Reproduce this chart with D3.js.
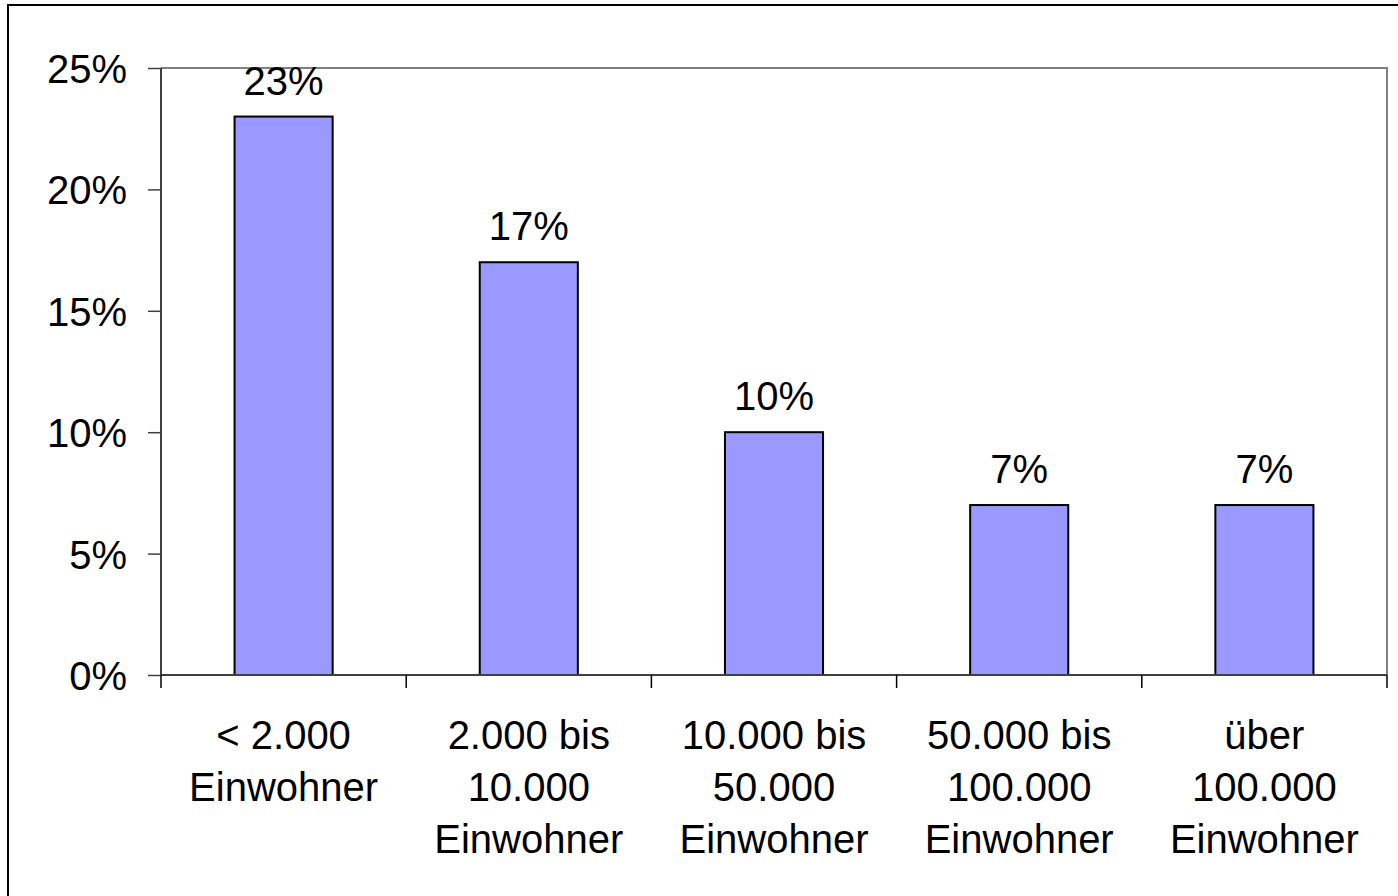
<!DOCTYPE html>
<html lang="de">
<head>
<meta charset="UTF-8">
<title>Einwohner</title>
<style>
  body { margin: 0; background: #fff; }
  text { font-family: "Liberation Sans", Arial, sans-serif; fill: #000; }
</style>
</head>
<body>
<svg width="1398" height="896"></svg>
<script src="https://cdn.jsdelivr.net/npm/d3@7"></script>
<script>
(function() {
    'use strict';

    var categories = [
        ["< 2.000", "Einwohner"],
        ["2.000 bis", "10.000", "Einwohner"],
        ["10.000 bis", "50.000", "Einwohner"],
        ["50.000 bis", "100.000", "Einwohner"],
        ["über", "100.000", "Einwohner"]
    ];
    var values = [23, 17, 10, 7, 7];
    var yTicks = [0, 5, 10, 15, 20, 25];

    var LEFT = 161, RIGHT = 1387, TOP = 68, BOTTOM = 675;
    var FONT = 40;

    var svg = d3.select("svg");

    // outer frame
    svg.append("rect")
        .attr("x", 8).attr("y", 5)
        .attr("width", 1400).attr("height", 900)
        .attr("fill", "none").attr("stroke", "#000").attr("stroke-width", 2);

    var x = d3.scaleBand()
        .domain(d3.range(categories.length))
        .range([LEFT, RIGHT])
        .paddingInner(0.6).paddingOuter(0.3);

    var band = d3.scaleBand()
        .domain(d3.range(categories.length))
        .range([LEFT, RIGHT]);

    var y = d3.scaleLinear().domain([0, 25]).range([BOTTOM, TOP]);

    // plot area border (top / right)
    svg.append("path")
        .attr("d", "M" + LEFT + "," + TOP + "H" + RIGHT + "V" + BOTTOM)
        .attr("fill", "none").attr("stroke", "#808080").attr("stroke-width", 2);

    // bars
    svg.selectAll(".bar")
        .data(values)
        .enter().append("rect")
        .attr("class", "bar")
        .attr("x", function(d, i) { return x(i); })
        .attr("y", function(d) { return y(d); })
        .attr("width", x.bandwidth())
        .attr("height", function(d) { return y(0) - y(d); })
        .attr("fill", "#9999ff")
        .attr("stroke", "#000")
        .attr("stroke-width", 2);

    // value labels
    svg.selectAll(".val")
        .data(values)
        .enter().append("text")
        .attr("class", "val")
        .attr("x", function(d, i) { return x(i) + x.bandwidth() / 2; })
        .attr("y", function(d) { return y(d) - 22; })
        .attr("text-anchor", "middle")
        .attr("font-size", FONT)
        .text(function(d) { return d + "%"; });

    // y axis
    var yAxis = svg.append("g")
        .attr("transform", "translate(" + LEFT + ",0)")
        .call(d3.axisLeft(y).tickValues(yTicks).tickSize(13).tickPadding(21)
            .tickFormat(function(d) { return d + "%"; }));
    yAxis.select(".domain").attr("stroke", "#000").attr("stroke-width", 1.5)
        .attr("d", "M0," + TOP + "V" + BOTTOM);
    yAxis.selectAll(".tick line").attr("stroke", "#404040").attr("stroke-width", 1.5);
    yAxis.selectAll(".tick text")
        .attr("font-size", FONT).attr("dy", "0.36em")
        .attr("font-family", "Liberation Sans, Arial, sans-serif");

    // x axis
    var xAxis = svg.append("g")
        .attr("transform", "translate(0," + BOTTOM + ")");
    xAxis.append("line")
        .attr("x1", LEFT).attr("x2", RIGHT)
        .attr("stroke", "#404040").attr("stroke-width", 2);
    xAxis.selectAll(".xtick")
        .data(d3.range(categories.length + 1))
        .enter().append("line")
        .attr("class", "xtick")
        .attr("x1", function(i) { return i < categories.length ? band(i) : RIGHT; })
        .attr("x2", function(i) { return i < categories.length ? band(i) : RIGHT; })
        .attr("y1", 0).attr("y2", 13)
        .attr("stroke", "#000").attr("stroke-width", 1.5);

    // category labels
    var cat = svg.selectAll(".cat")
        .data(categories)
        .enter().append("text")
        .attr("class", "cat")
        .attr("text-anchor", "middle")
        .attr("font-size", FONT);
    cat.selectAll("tspan")
        .data(function(d, i) { return d.map(function(s) { return { s: s, i: i }; }); })
        .enter().append("tspan")
        .attr("x", function(d) { return band(d.i) + band.bandwidth() / 2; })
        .attr("y", function(d, j) { return 749 + j * 52; })
        .text(function(d) { return d.s; });
})();
</script>
</body>
</html>
